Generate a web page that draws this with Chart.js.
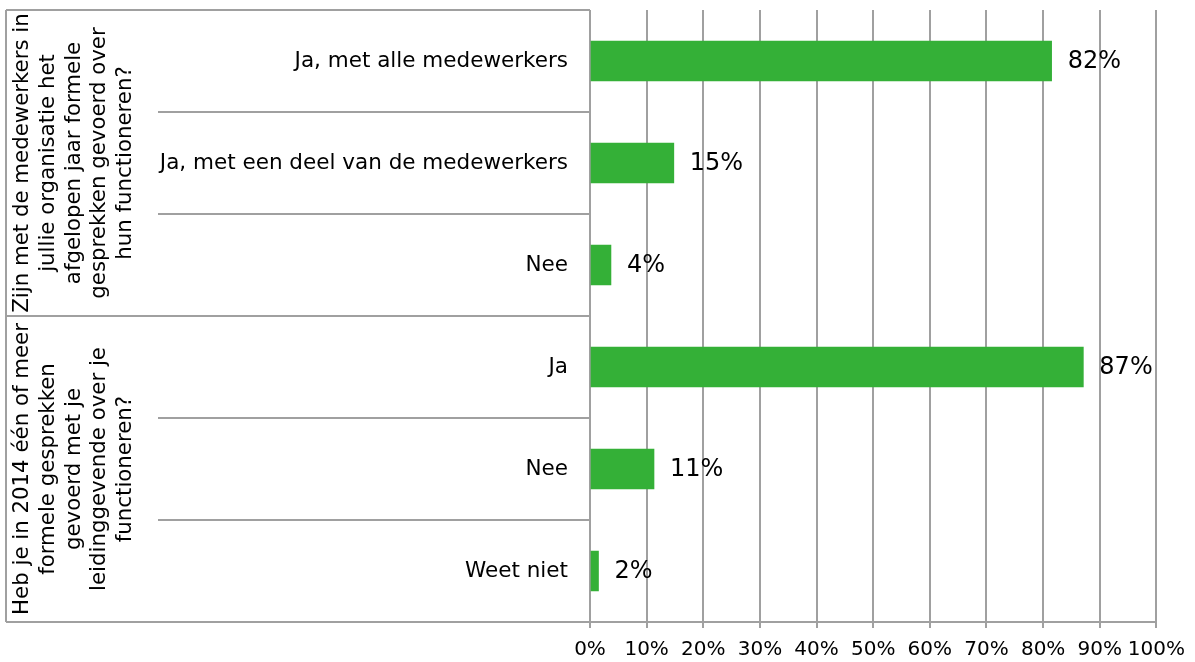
<!DOCTYPE html>
<html>
<head>
<meta charset="utf-8">
<script src="https://cdn.jsdelivr.net/npm/chart.js@4"></script>
<style>
  html, body { margin: 0; padding: 0; background: #fff; }
  #wrap { width: 1195px; height: 662px; }
</style>
</head>
<body>
<div id="wrap"><canvas id="chart" width="1195" height="662"></canvas></div>
<script>
// data
const antwoorden = [
  "Ja, met alle medewerkers",
  "Ja, met een deel van de medewerkers",
  "Nee",
  "Ja",
  "Nee",
  "Weet niet"
];
const percentages = [81.5, 14.8, 3.7, 87.1, 11.3, 1.5];
const vragen = [
  ["Zijn met de medewerkers in", "jullie organisatie het", "afgelopen jaar formele", "gesprekken gevoerd over", "hun functioneren?"],
  ["Heb je in 2014 één of meer", "formele gesprekken", "gevoerd met je", "leidinggevende over je", "functioneren?"]
];
const vraagGrootte = [3, 3];
const xTicks = [0, 10, 20, 30, 40, 50, 60, 70, 80, 90, 100];

const GRIJS = "#a0a0a0";
const GROEN = "#34b037";

// lijnen + vraagteksten links
const categoriePlugin = {
  id: "categorie",
  afterDraw(chart) {
    const ctx = chart.ctx;
    const area = chart.chartArea;
    const y = chart.scales.y;
    const linksX = 6, binnenX = 158;
    const band = y.getPixelForValue(1) - y.getPixelForValue(0);

    ctx.save();
    ctx.strokeStyle = GRIJS;
    ctx.lineWidth = 2;
    ctx.beginPath();
    ctx.moveTo(linksX, area.top);
    ctx.lineTo(linksX, area.bottom);
    ctx.moveTo(linksX, area.top);
    ctx.lineTo(area.left, area.top);
    ctx.moveTo(linksX, area.bottom);
    ctx.lineTo(area.left, area.bottom);

    let grens = 0;
    const groepGrenzen = vraagGrootte.map(n => (grens += n));
    for (let i = 1; i < antwoorden.length; i++) {
      const py = (y.getPixelForValue(i - 1) + y.getPixelForValue(i)) / 2;
      const start = groepGrenzen.includes(i) ? linksX : binnenX;
      ctx.moveTo(start, py);
      ctx.lineTo(area.left, py);
    }
    ctx.stroke();

    // gedraaide vraagteksten
    ctx.fillStyle = "#000";
    ctx.font = "21.3px 'DejaVu Sans'";
    ctx.textAlign = "center";
    ctx.textBaseline = "middle";
    let begin = 0;
    vragen.forEach((regels, g) => {
      const top = y.getPixelForValue(begin) - band / 2;
      const bodem = y.getPixelForValue(begin + vraagGrootte[g] - 1) + band / 2;
      const cy = (top + bodem) / 2;
      const cx = 74;
      const lh = 25.6;
      ctx.save();
      ctx.translate(cx, cy);
      ctx.rotate(-Math.PI / 2);
      regels.forEach((r, k) => {
        ctx.fillText(r, 0, (k - (regels.length - 1) / 2) * lh);
      });
      ctx.restore();
      begin += vraagGrootte[g];
    });
    ctx.restore();
  }
};

// percentages naast de balken
const waardePlugin = {
  id: "waarde",
  afterDatasetsDraw(chart) {
    const ctx = chart.ctx;
    const meta = chart.getDatasetMeta(0);
    ctx.save();
    ctx.fillStyle = "#000";
    ctx.font = "24px 'DejaVu Sans'";
    ctx.textAlign = "left";
    ctx.textBaseline = "middle";
    meta.data.forEach((bar, i) => {
      ctx.fillText(Math.round(percentages[i]) + "%", bar.x + 16, bar.y + 1);
    });
    ctx.restore();
  }
};

new Chart(document.getElementById("chart"), {
  type: "bar",
  data: {
    labels: antwoorden,
    datasets: [{
      data: percentages,
      backgroundColor: GROEN,
      borderWidth: 0,
      barThickness: 40
    }]
  },
  options: {
    indexAxis: "y",
    responsive: false,
    animation: false,
    layout: { padding: { left: 6, top: 10, right: 37, bottom: 0 } },
    plugins: { legend: { display: false }, tooltip: { enabled: false } },
    scales: {
      x: {
        min: 0,
        max: 100,
        afterBuildTicks(scale) { scale.ticks = xTicks.map(v => ({ value: v })); },
        afterFit(scale) { scale.height = 40; },
        ticks: {
          color: "#000",
          font: { family: "'DejaVu Sans'", size: 20 },
          padding: 10,
          maxRotation: 0,
          autoSkip: false,
          callback: v => v + "%"
        },
        grid: { color: GRIJS, lineWidth: 2, tickLength: 6 },
        border: { display: true, color: GRIJS, width: 2 }
      },
      y: {
        afterFit(scale) {
          scale.width = 584;
          scale.paddingTop = 0;
          scale.paddingBottom = 0;
        },
        ticks: {
          color: "#000",
          font: { family: "'DejaVu Sans'", size: 21.5 },
          padding: 14,
          autoSkip: false
        },
        grid: { display: false },
        border: { display: false }
      }
    }
  },
  plugins: [categoriePlugin, waardePlugin]
});
</script>
</body>
</html>
